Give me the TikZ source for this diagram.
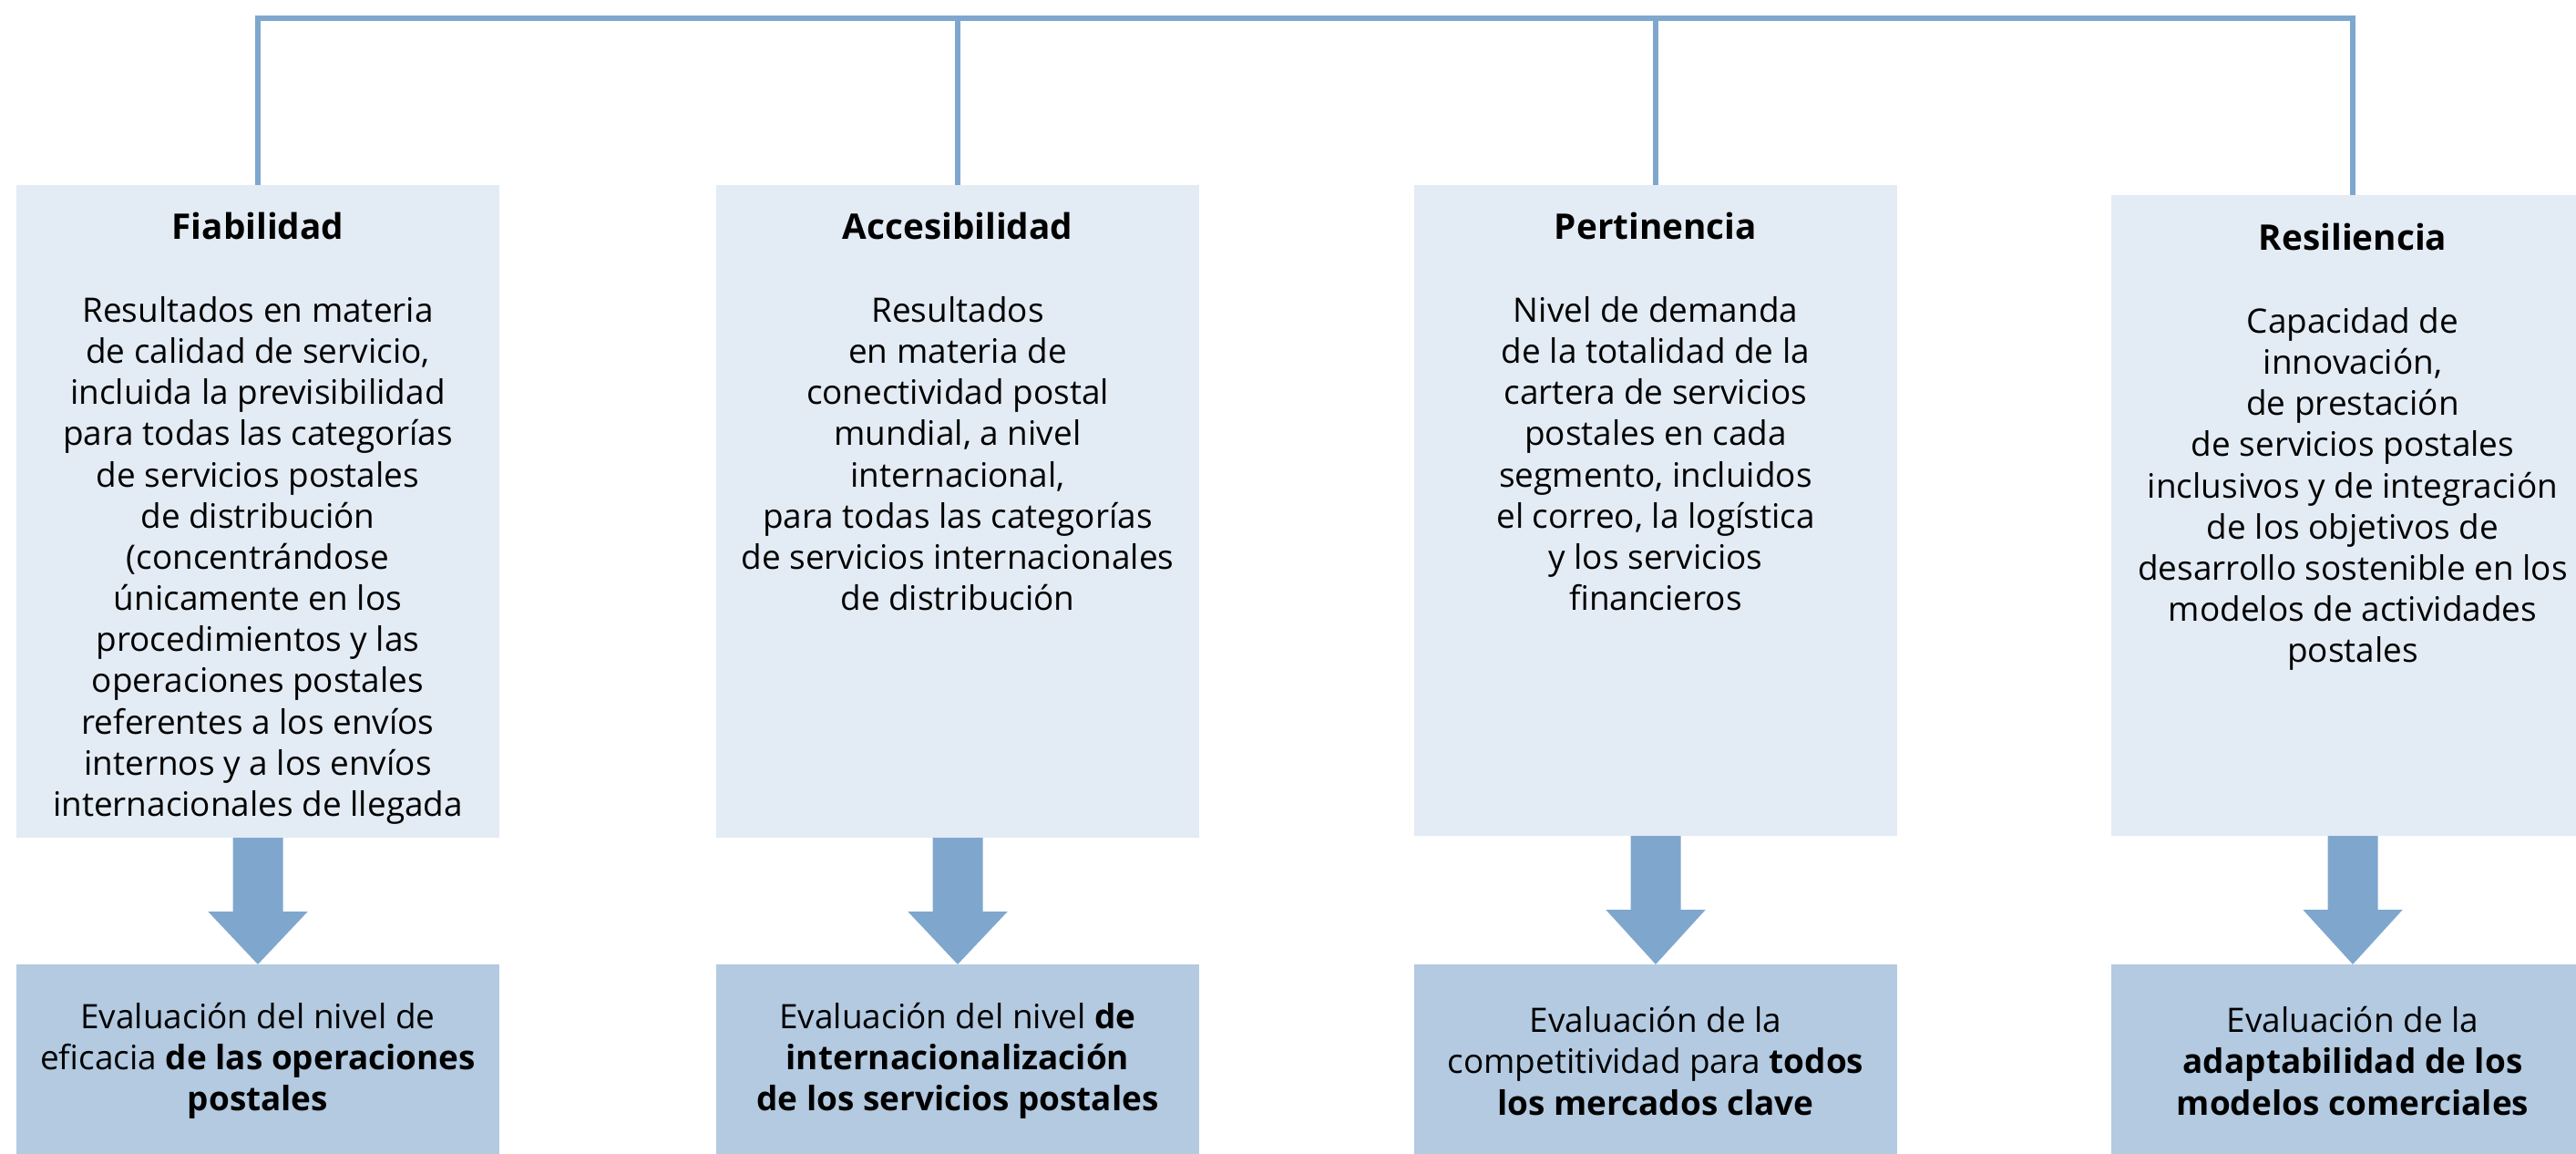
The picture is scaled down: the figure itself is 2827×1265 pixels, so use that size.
\documentclass[tikz,border=0pt]{standalone}
\usepackage{fontspec}
\setmainfont{Open Sans}
\usetikzlibrary{calc}
\definecolor{topc}{HTML}{E3EBF4}
\definecolor{botc}{HTML}{B3CAE1}
\definecolor{linec}{HTML}{7FA7CE}
\newcommand{\ttl}[1]{{\fontsize{11}{12.85}\selectfont\textbf{#1}}}
\begin{document}
\begin{tikzpicture}[x=0.01cm,y=-0.01cm,
  topbox/.style={fill=topc, draw=none, minimum width=5.3cm, inner sep=0pt, outer sep=0pt},
  botbox/.style={fill=botc, draw=none, minimum width=5.3cm, minimum height=2.12cm, inner sep=0pt, outer sep=0pt,
    align=center, font=\fontsize{10.5}{12.85}\selectfont},
  txt/.style={anchor=north, inner sep=0pt, align=center, font=\fontsize{10.5}{12.85}\selectfont},
  conn/.style={draw=linec, line width=0.06cm, line join=miter},
  blk/.style={fill=linec}]
\useasboundingbox (0,0) rectangle (2827,1265);

% top boxes
\node[topbox, minimum height=7.16cm] (b1) at (283,561) {};
\node[topbox, minimum height=7.16cm] (b2) at (1051,561) {};
\node[topbox, minimum height=7.14cm] (b3) at (1817,560) {};
\node[topbox, minimum height=7.03cm] (b4) at (2582,565.5) {};

% bottom boxes
\node[botbox] (e1) at (283,1164) {Evaluación del nivel de\\ eficacia \textbf{de las operaciones}\\ \textbf{postales}};
\node[botbox] (e2) at (1051,1164) {Evaluación del nivel \textbf{de}\\ \textbf{internacionalización}\\ \textbf{de los servicios postales}};
\node[botbox] (e3) at (1817,1164) {Evaluación de la\\ competitividad para \textbf{todos}\\ \textbf{los mercados clave}};
\node[botbox] (e4) at (2582,1164) {Evaluación de la\\ \textbf{adaptabilidad de los}\\ \textbf{modelos comerciales}};

% texts of top boxes
\node[txt] (t1) at ($(b1.north)+(0,30)$) {\ttl{Fiabilidad}\\[12.85pt]
Resultados en materia\\ de calidad de servicio,\\ incluida la previsibilidad\\ para todas las categorías\\
de servicios postales\\ de distribución\\ (concentrándose\\ únicamente en los\\ procedimientos y las\\
operaciones postales\\ referentes a los envíos\\ internos y a los envíos\\ internacionales de llegada};
\node[txt] (t2) at ($(b2.north)+(0,30)$) {\ttl{Accesibilidad}\\[12.85pt]
Resultados\\ en materia de\\ conectividad postal\\ mundial, a nivel\\ internacional,\\
para todas las categorías\\ de servicios internacionales\\ de distribución};
\node[txt] (t3) at ($(b3.north)+(0,30)$) {\ttl{Pertinencia}\\[12.85pt]
Nivel de demanda\\ de la totalidad de la\\ cartera de servicios\\ postales en cada\\
segmento, incluidos\\ el correo, la logística\\ y los servicios\\ financieros};
\node[txt] (t4) at ($(b4.north)+(0,31)$) {\ttl{Resiliencia}\\[12.85pt]
Capacidad de\\ innovación,\\ de prestación\\ de servicios postales\\ inclusivos y de integración\\
de los objetivos de\\ desarrollo sostenible en los\\ modelos de actividades\\ postales};

% connector tree
\coordinate (top) at (0,19.7);
\draw[conn] (b1.north) -- (b1.north |- top) -- (b4.north |- top) -- (b4.north);
\draw[conn] (b2.north) -- (b2.north |- top);
\draw[conn] (b3.north) -- (b3.north |- top);

% block arrows
\foreach \i in {1,2,3,4}{
  \fill[blk] ($(b\i.south)+(-27.5,0)$) -- ($(b\i.south)+(27.5,0)$) -- ($(b\i.south)+(27.5,81)$)
    -- ($(b\i.south)+(54.5,81)$) -- (e\i.north) -- ($(b\i.south)+(-54.5,81)$)
    -- ($(b\i.south)+(-27.5,81)$) -- cycle;
}
\end{tikzpicture}
\end{document}
